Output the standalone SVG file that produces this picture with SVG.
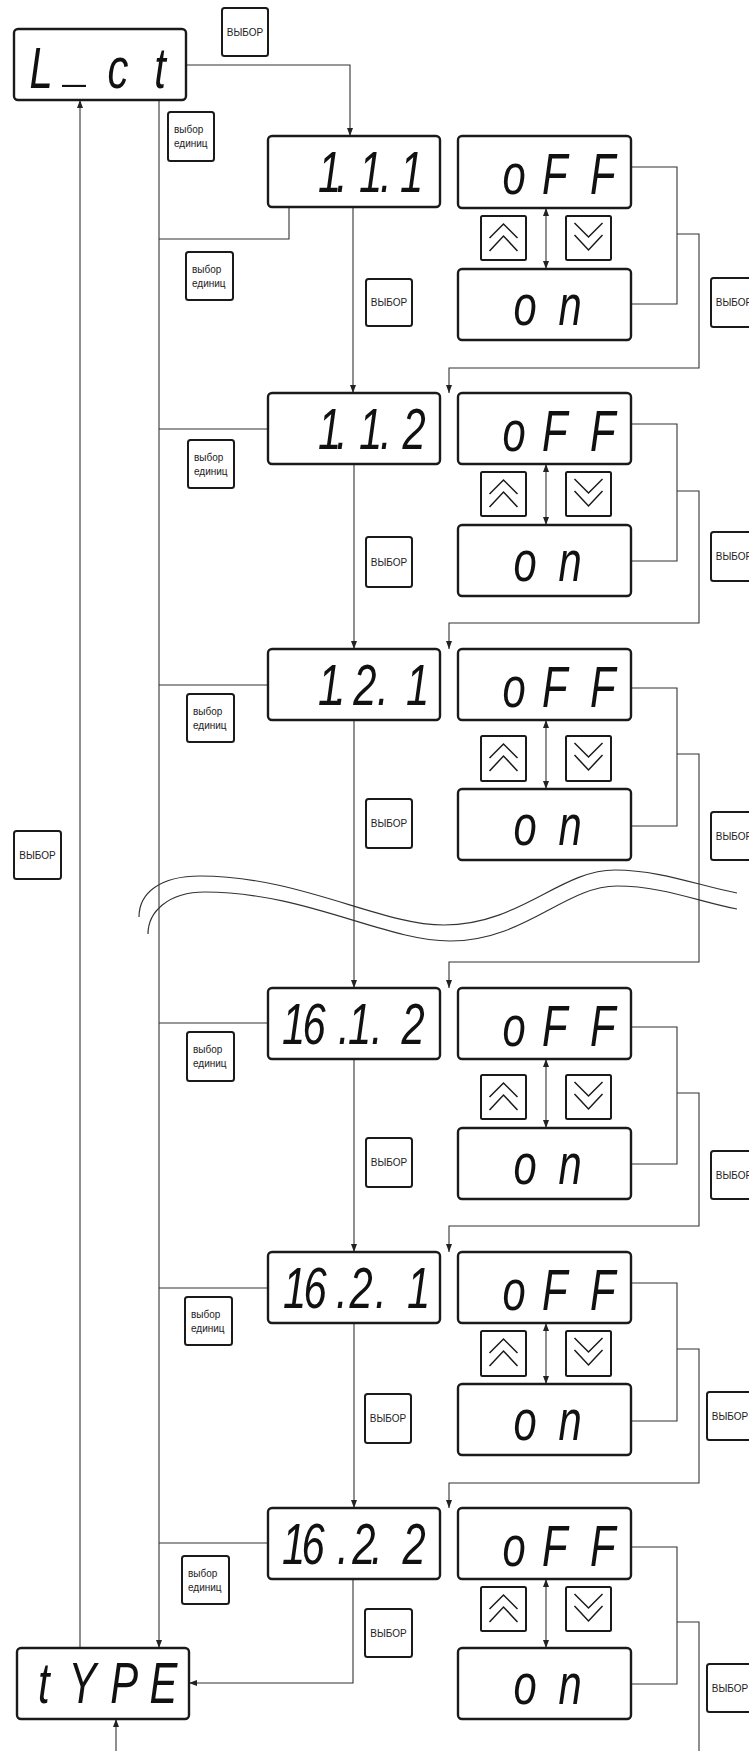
<svg xmlns="http://www.w3.org/2000/svg" width="749" height="1751" viewBox="0 0 749 1751">
<style>
.disp{fill:#fff;stroke:#1a1a1a;stroke-width:2.4}
.btn{fill:#fff;stroke:#1a1a1a;stroke-width:2}
.seg{font-family:"Liberation Sans",Arial,sans-serif;font-style:italic;font-size:58px;fill:#111}
.lbl{font-family:"Liberation Sans",Arial,sans-serif;font-size:10px;fill:#222}
.c{fill:none;stroke:#333;stroke-width:1.1}
.chev{fill:none;stroke:#1a1a1a;stroke-width:1.5}
.brk{fill:none;stroke:#333;stroke-width:1.2}
</style>
<defs>
<marker id="ah" viewBox="0 0 8 6" refX="8" refY="3" markerWidth="8" markerHeight="6" orient="auto-start-reverse" markerUnits="userSpaceOnUse"><path d="M0,0 L8,3 L0,6 z" fill="#222"/></marker>
</defs>
<rect width="749" height="1751" fill="#fff"/>

<g id="connectors">
<path class="c" d="M186,65 H350 V136" marker-end="url(#ah)"/>
<path class="c" d="M289,207 V239 H159"/>
<path class="c" d="M159,100 V1648" marker-end="url(#ah)"/>
<path class="c" d="M159,429 H268 M159,685 H268 M159,1023 H268 M159,1288 H268 M159,1543 H268"/>
<path class="c" d="M80,1648 V100" marker-end="url(#ah)"/>
<path class="c" d="M116,1751 V1719" marker-end="url(#ah)"/>
<path class="c" d="M353,207 V393" marker-end="url(#ah)"/>
<path class="c" d="M354,464 V649" marker-end="url(#ah)"/>
<path class="c" d="M354,720 V988" marker-end="url(#ah)"/>
<path class="c" d="M354,1059 V1252" marker-end="url(#ah)"/>
<path class="c" d="M354,1323 V1508" marker-end="url(#ah)"/>
<path class="c" d="M353,1579 V1683 H189" marker-end="url(#ah)"/>
<path class="c" d="M546,208 V269" marker-start="url(#ah)" marker-end="url(#ah)"/>
<path class="c" d="M546,464 V525" marker-start="url(#ah)" marker-end="url(#ah)"/>
<path class="c" d="M546,720 V789" marker-start="url(#ah)" marker-end="url(#ah)"/>
<path class="c" d="M546,1059 V1128" marker-start="url(#ah)" marker-end="url(#ah)"/>
<path class="c" d="M546,1323 V1384" marker-start="url(#ah)" marker-end="url(#ah)"/>
<path class="c" d="M546,1579 V1648" marker-start="url(#ah)" marker-end="url(#ah)"/>
<path class="c" d="M631,167 H677 V304 H631"/>
<path class="c" d="M677,234 H699 V368 H449 V393" marker-end="url(#ah)"/>
<path class="c" d="M631,424 H677 V561 H631"/>
<path class="c" d="M677,491 H699 V623 H449 V649" marker-end="url(#ah)"/>
<path class="c" d="M631,688 H677 V826 H631"/>
<path class="c" d="M677,754 H699 V962 H449 V988" marker-end="url(#ah)"/>
<path class="c" d="M631,1027 H677 V1164 H631"/>
<path class="c" d="M677,1093 H699 V1226 H449 V1252" marker-end="url(#ah)"/>
<path class="c" d="M631,1283 H677 V1421 H631"/>
<path class="c" d="M677,1349 H699 V1483 H449 V1508" marker-end="url(#ah)"/>
<path class="c" d="M631,1547 H677 V1684 H631"/>
<path class="c" d="M677,1622 H699 V1751"/>
</g>

<g id="break">
<path class="brk" d="M139,917 C139,893 160,876 200,876 C300,876 380,925 444,925 C520,925 560,870 615,870 C660,870 700,886 737,893"/>
<path class="brk" d="M148,934 C148,912 168,892 205,892 C305,892 385,941 450,941 C525,941 565,886 617,886 C662,886 700,902 737,909"/>
</g>

<g id="node-lct">
<rect class="disp" x="14" y="29" width="172" height="71" rx="4"/>
<text class="seg" transform="translate(0,88) scale(0.72,1)" x="41 90.8 149.4 214.2" y="0" dy="0 -8 8 0">L_ct</text>
</g>
<g id="node-type">
<rect class="disp" x="17" y="1648" width="172" height="71" rx="4"/>
<text class="seg" transform="translate(0,1703) scale(0.72,1)" x="52.8 95.3 153.3 207.8" y="0">tYPE</text>
</g>

<g id="btn-vybor-top"><rect class="btn" x="222" y="8" width="46" height="48" rx="2.5"/><text class="lbl" x="245" y="35.5" text-anchor="middle">ВЫБОР</text></g>
<g id="btn-vybor-left"><rect class="btn" x="14" y="831" width="47" height="48" rx="2.5"/><text class="lbl" x="37.5" y="858.5" text-anchor="middle">ВЫБОР</text></g>
<g id="btn-ed-0"><rect class="btn" x="168" y="112" width="46" height="49" rx="2.5"/><text class="lbl" x="174" y="133"><tspan x="174">выбор</tspan><tspan x="174" dy="14">единиц</tspan></text></g>

<g id="node-111">
<rect class="disp" x="268" y="136" width="172" height="71" rx="4"/>
<text class="seg" transform="translate(0,192) scale(0.72,1)" x="441.7 466.7 498.6 527.8 555.6" y="0">1.1.1</text>
</g>
<g id="node-111-off"><rect class="disp" x="458" y="136" width="173" height="72" rx="4"/><text class="seg" transform="translate(0,194) scale(0.72,1)" x="697.8 752.8 819.4" y="0">oFF</text></g>
<g id="node-111-on"><rect class="disp" x="458" y="269" width="173" height="71" rx="4"/><text class="seg" transform="translate(0,325) scale(0.72,1)" x="713.1 775.6" y="0">on</text></g>
<g id="btn-111-up"><rect class="btn" x="481" y="216" width="45" height="44" rx="1.5"/><path class="chev" d="M489.5,238 L503.5,224 L517.5,238 M489.5,251 L503.5,236 L517.5,251"/></g>
<g id="btn-111-down"><rect class="btn" x="566" y="216" width="45" height="44" rx="1.5"/><path class="chev" d="M574.5,223 L588.5,237 L602.5,223 M574.5,235 L588.5,250 L602.5,235"/></g>
<g id="btn-111-ed"><rect class="btn" x="186" y="252" width="47" height="48" rx="2.5"/><text class="lbl" x="192" y="273"><tspan x="192">выбор</tspan><tspan x="192" dy="14">единиц</tspan></text></g>
<g id="btn-111-vybor"><rect class="btn" x="366" y="279" width="46" height="47" rx="2.5"/><text class="lbl" x="389" y="306" text-anchor="middle">ВЫБОР</text></g>
<g id="btn-111-vybor-r"><rect class="btn" x="711" y="278" width="46" height="49" rx="2.5"/><text class="lbl" x="734" y="306" text-anchor="middle">ВЫБОР</text></g>

<g id="node-112">
<rect class="disp" x="268" y="393" width="172" height="71" rx="4"/>
<text class="seg" transform="translate(0,449) scale(0.72,1)" x="441.7 466.7 498.6 527.8 558.9" y="0">1.1.2</text>
</g>
<g id="node-112-off"><rect class="disp" x="458" y="393" width="173" height="71" rx="4"/><text class="seg" transform="translate(0,451) scale(0.72,1)" x="697.8 752.8 819.4" y="0">oFF</text></g>
<g id="node-112-on"><rect class="disp" x="458" y="525" width="173" height="71" rx="4"/><text class="seg" transform="translate(0,581) scale(0.72,1)" x="713.1 775.6" y="0">on</text></g>
<g id="btn-112-up"><rect class="btn" x="481" y="472" width="45" height="44" rx="1.5"/><path class="chev" d="M489.5,494 L503.5,480 L517.5,494 M489.5,507 L503.5,492 L517.5,507"/></g>
<g id="btn-112-down"><rect class="btn" x="566" y="472" width="45" height="44" rx="1.5"/><path class="chev" d="M574.5,479 L588.5,493 L602.5,479 M574.5,491 L588.5,506 L602.5,491"/></g>
<g id="btn-112-ed"><rect class="btn" x="188" y="440" width="46" height="48" rx="2.5"/><text class="lbl" x="194" y="461"><tspan x="194">выбор</tspan><tspan x="194" dy="14">единиц</tspan></text></g>
<g id="btn-112-vybor"><rect class="btn" x="366" y="537" width="46" height="50" rx="2.5"/><text class="lbl" x="389" y="565.5" text-anchor="middle">ВЫБОР</text></g>
<g id="btn-112-vybor-r"><rect class="btn" x="711" y="532" width="46" height="49" rx="2.5"/><text class="lbl" x="734" y="560" text-anchor="middle">ВЫБОР</text></g>

<g id="node-121">
<rect class="disp" x="268" y="649" width="172" height="71" rx="4"/>
<text class="seg" transform="translate(0,705) scale(0.72,1)" x="441.7 465.3 490.8 523.6 563.9" y="0">1.2.1</text>
</g>
<g id="node-121-off"><rect class="disp" x="458" y="649" width="173" height="71" rx="4"/><text class="seg" transform="translate(0,707) scale(0.72,1)" x="697.8 752.8 819.4" y="0">oFF</text></g>
<g id="node-121-on"><rect class="disp" x="458" y="789" width="173" height="71" rx="4"/><text class="seg" transform="translate(0,845) scale(0.72,1)" x="713.1 775.6" y="0">on</text></g>
<g id="btn-121-up"><rect class="btn" x="481" y="736" width="45" height="45" rx="1.5"/><path class="chev" d="M489.5,758 L503.5,744 L517.5,758 M489.5,771 L503.5,756 L517.5,771"/></g>
<g id="btn-121-down"><rect class="btn" x="566" y="736" width="45" height="45" rx="1.5"/><path class="chev" d="M574.5,743 L588.5,757 L602.5,743 M574.5,755 L588.5,770 L602.5,755"/></g>
<g id="btn-121-ed"><rect class="btn" x="187" y="694" width="47" height="48" rx="2.5"/><text class="lbl" x="193" y="715"><tspan x="193">выбор</tspan><tspan x="193" dy="14">единиц</tspan></text></g>
<g id="btn-121-vybor"><rect class="btn" x="366" y="799" width="46" height="49" rx="2.5"/><text class="lbl" x="389" y="827" text-anchor="middle">ВЫБОР</text></g>
<g id="btn-121-vybor-r"><rect class="btn" x="711" y="812" width="46" height="48" rx="2.5"/><text class="lbl" x="734" y="839.5" text-anchor="middle">ВЫБОР</text></g>

<g id="node-1612">
<rect class="disp" x="268" y="988" width="172" height="71" rx="4"/>
<text class="seg" transform="translate(0,1044) scale(0.72,1)" x="391.7 420 469.4 483.3 515.3 557.5" y="0">16.1.2</text>
</g>
<g id="node-1612-off"><rect class="disp" x="458" y="988" width="173" height="71" rx="4"/><text class="seg" transform="translate(0,1046) scale(0.72,1)" x="697.8 752.8 819.4" y="0">oFF</text></g>
<g id="node-1612-on"><rect class="disp" x="458" y="1128" width="173" height="71" rx="4"/><text class="seg" transform="translate(0,1184) scale(0.72,1)" x="713.1 775.6" y="0">on</text></g>
<g id="btn-1612-up"><rect class="btn" x="481" y="1075" width="45" height="44" rx="1.5"/><path class="chev" d="M489.5,1097 L503.5,1083 L517.5,1097 M489.5,1110 L503.5,1095 L517.5,1110"/></g>
<g id="btn-1612-down"><rect class="btn" x="566" y="1075" width="45" height="44" rx="1.5"/><path class="chev" d="M574.5,1082 L588.5,1096 L602.5,1082 M574.5,1094 L588.5,1109 L602.5,1094"/></g>
<g id="btn-1612-ed"><rect class="btn" x="187" y="1032" width="47" height="49" rx="2.5"/><text class="lbl" x="193" y="1053"><tspan x="193">выбор</tspan><tspan x="193" dy="14">единиц</tspan></text></g>
<g id="btn-1612-vybor"><rect class="btn" x="366" y="1138" width="46" height="49" rx="2.5"/><text class="lbl" x="389" y="1166" text-anchor="middle">ВЫБОР</text></g>
<g id="btn-1612-vybor-r"><rect class="btn" x="711" y="1151" width="46" height="48" rx="2.5"/><text class="lbl" x="734" y="1178.5" text-anchor="middle">ВЫБОР</text></g>

<g id="node-1621">
<rect class="disp" x="268" y="1252" width="172" height="71" rx="4"/>
<text class="seg" transform="translate(0,1308) scale(0.72,1)" x="393.1 421.4 466.7 485.3 520.8 565.3" y="0">16.2.1</text>
</g>
<g id="node-1621-off"><rect class="disp" x="458" y="1252" width="173" height="71" rx="4"/><text class="seg" transform="translate(0,1310) scale(0.72,1)" x="697.8 752.8 819.4" y="0">oFF</text></g>
<g id="node-1621-on"><rect class="disp" x="458" y="1384" width="173" height="71" rx="4"/><text class="seg" transform="translate(0,1440) scale(0.72,1)" x="713.1 775.6" y="0">on</text></g>
<g id="btn-1621-up"><rect class="btn" x="481" y="1331" width="45" height="45" rx="1.5"/><path class="chev" d="M489.5,1353 L503.5,1339 L517.5,1353 M489.5,1366 L503.5,1351 L517.5,1366"/></g>
<g id="btn-1621-down"><rect class="btn" x="566" y="1331" width="45" height="45" rx="1.5"/><path class="chev" d="M574.5,1338 L588.5,1352 L602.5,1338 M574.5,1350 L588.5,1365 L602.5,1350"/></g>
<g id="btn-1621-ed"><rect class="btn" x="185" y="1297" width="47" height="48" rx="2.5"/><text class="lbl" x="191" y="1318"><tspan x="191">выбор</tspan><tspan x="191" dy="14">единиц</tspan></text></g>
<g id="btn-1621-vybor"><rect class="btn" x="365" y="1394" width="46" height="49" rx="2.5"/><text class="lbl" x="388" y="1422" text-anchor="middle">ВЫБОР</text></g>
<g id="btn-1621-vybor-r"><rect class="btn" x="707" y="1392" width="46" height="48" rx="2.5"/><text class="lbl" x="730" y="1419.5" text-anchor="middle">ВЫБОР</text></g>

<g id="node-1622">
<rect class="disp" x="268" y="1508" width="172" height="71" rx="4"/>
<text class="seg" transform="translate(0,1564) scale(0.72,1)" x="391.7 418.6 468.1 489.4 515.3 558.9" y="0">16.2.2</text>
</g>
<g id="node-1622-off"><rect class="disp" x="458" y="1508" width="173" height="71" rx="4"/><text class="seg" transform="translate(0,1566) scale(0.72,1)" x="697.8 752.8 819.4" y="0">oFF</text></g>
<g id="node-1622-on"><rect class="disp" x="458" y="1648" width="173" height="71" rx="4"/><text class="seg" transform="translate(0,1704) scale(0.72,1)" x="713.1 775.6" y="0">on</text></g>
<g id="btn-1622-up"><rect class="btn" x="481" y="1587" width="45" height="44" rx="1.5"/><path class="chev" d="M489.5,1609 L503.5,1595 L517.5,1609 M489.5,1622 L503.5,1607 L517.5,1622"/></g>
<g id="btn-1622-down"><rect class="btn" x="566" y="1587" width="45" height="44" rx="1.5"/><path class="chev" d="M574.5,1594 L588.5,1608 L602.5,1594 M574.5,1606 L588.5,1621 L602.5,1606"/></g>
<g id="btn-1622-ed"><rect class="btn" x="182" y="1556" width="47" height="48" rx="2.5"/><text class="lbl" x="188" y="1577"><tspan x="188">выбор</tspan><tspan x="188" dy="14">единиц</tspan></text></g>
<g id="btn-1622-vybor"><rect class="btn" x="365" y="1609" width="47" height="48" rx="2.5"/><text class="lbl" x="388.5" y="1636.5" text-anchor="middle">ВЫБОР</text></g>
<g id="btn-1622-vybor-r"><rect class="btn" x="707" y="1664" width="46" height="48" rx="2.5"/><text class="lbl" x="730" y="1691.5" text-anchor="middle">ВЫБОР</text></g>
</svg>
